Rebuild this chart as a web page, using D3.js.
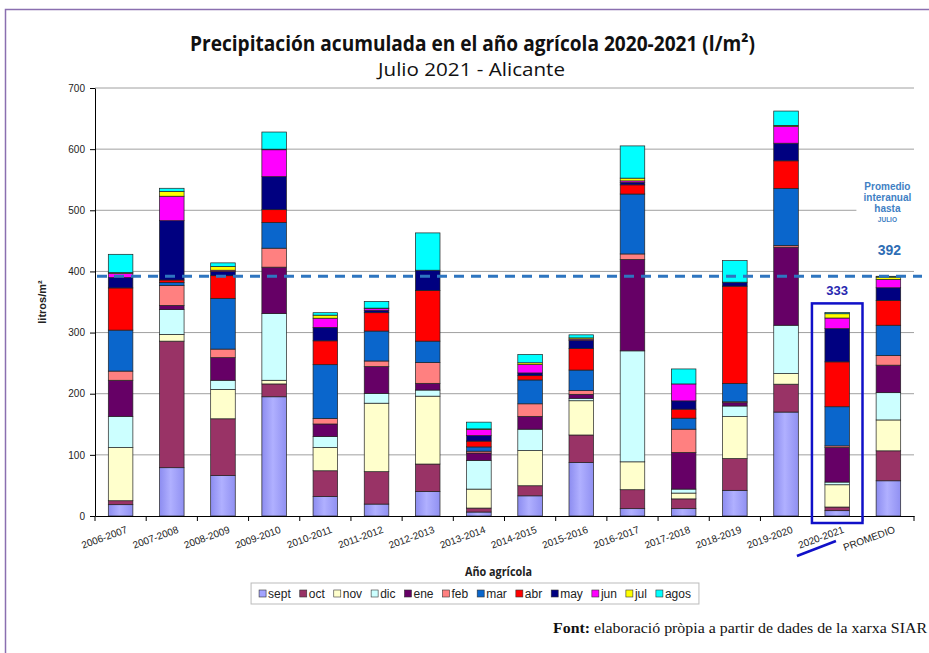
<!DOCTYPE html>
<html>
<head>
<meta charset="utf-8">
<script src="https://cdn.jsdelivr.net/npm/d3@7"></script>
<style>
  body { margin: 0; background: #fff; }
  svg { display: block; }
</style>
</head>
<body>
<div id="chart"></div>
<script>
// data (l/m2 per month, stacked)
const years = ['2006-2007', '2007-2008', '2008-2009', '2009-2010', '2010-2011', '2011-2012',
    '2012-2013', '2013-2014', '2014-2015', '2015-2016', '2016-2017', '2017-2018',
    '2018-2019', '2019-2020', '2020-2021', 'PROMEDIO'];
const months = ['sept', 'oct', 'nov', 'dic', 'ene', 'feb', 'mar', 'abr', 'may', 'jun', 'jul', 'agos'];
const monthColors = ['#a3a3ff', '#993366', '#ffffcc', '#ccffff', '#660066', '#ff8080',
    '#0a66cc', '#ff0000', '#000080', '#ff00ff', '#ffff00', '#00ffff'];

const sept = [18.5, 79, 66, 195, 32, 19.5, 40, 6.5, 33, 87.5, 12, 12, 42, 170, 8.7, 57.6];
const oct  = [6.5, 207, 93, 21, 42, 53, 45, 6.5, 16.5, 45, 31, 16, 52, 45.6, 6, 49];
const nov  = [87, 11, 48, 6, 38, 112, 111, 31, 57.5, 56, 45.6, 9.5, 68.5, 17.4, 36.4, 50.5];
const dic  = [51, 40.5, 15, 109, 18, 16, 10, 47, 35, 4, 181.5, 6.5, 17.4, 79, 4.4, 44.6];
const ene  = [59, 7, 37, 76, 20.5, 44, 11, 12, 21, 6.5, 149.5, 60, 5.4, 127.7, 56.5, 45];
const feb  = [15, 32.5, 14, 31, 9, 9, 34, 3, 20.5, 6, 9, 38, 1.6, 2.7, 2.7, 15.8];
const mar  = [67, 5, 83, 42, 88, 49, 35, 7, 39, 33.7, 98, 18, 30, 93.5, 64, 49.5];
const abr  = [69, 4, 37, 21, 39, 30, 83, 9.5, 7, 35, 15, 14.7, 159, 45, 73.4, 40.7];
const may  = [17, 97, 7, 54, 22, 4, 33, 9, 4.5, 13.6, 4, 13.6, 6.5, 28.8, 54.3, 20.6];
const jun  = [7, 40, 2, 44, 15, 3, 0, 10, 13.6, 2, 2.5, 27.7, 0, 27.2, 17.4, 13.6];
const jul  = [1, 8, 6, 1, 5, 0.5, 0, 1, 3, 2, 4.5, 0, 0, 2, 7, 3.8];
const agos = [30, 5, 6, 28, 4, 11, 61, 11, 13.6, 5, 52.7, 24.5, 35.3, 23.4, 2, 1.4];

const averageToJuly = 392;
const currentTotal = 333;
const yTicks = [0, 100, 200, 300, 400, 500, 600, 700];

const series = [sept, oct, nov, dic, ene, feb, mar, abr, may, jun, jul, agos];
const rows = years.map((yr, i) => {
    const row = { year: yr };
    months.forEach((m, k) => { row[m] = series[k][i]; });
    return row;
});

const width = 929, height = 653;
const margin = { top: 88, right: 15, bottom: 137, left: 95 };

const svg = d3.select('#chart').append('svg')
    .attr('width', width)
    .attr('height', height);

// soft shading on the sept bars
const grad = svg.append('defs').append('linearGradient')
    .attr('id', 'septGrad')
    .attr('x1', '0%').attr('x2', '100%');
grad.append('stop').attr('offset', '0%').attr('stop-color', '#8c8cf0');
grad.append('stop').attr('offset', '45%').attr('stop-color', '#b0b0ff');
grad.append('stop').attr('offset', '100%').attr('stop-color', '#9090f2');

// purple frame
svg.append('path')
    .attr('d', 'M5.5,653 V9.5 H929')
    .attr('fill', 'none')
    .attr('stroke', '#8a6fb0')
    .attr('stroke-width', 1.5);

const x = d3.scaleBand()
    .domain(years)
    .range([margin.left, width - margin.right])
    .paddingInner(0.52)
    .paddingOuter(0.26);

const y = d3.scaleLinear()
    .domain([0, 700])
    .range([height - margin.bottom, margin.top]);

// grid
svg.append('g')
    .selectAll('line')
    .data(yTicks.slice(1))
    .join('line')
    .attr('x1', margin.left)
    .attr('x2', width - margin.right)
    .attr('y1', d => y(d))
    .attr('y2', d => y(d))
    .attr('stroke', '#a0a0a0')
    .attr('stroke-width', 1);

// titles (condensed look)
svg.append('text')
    .attr('x', 190).attr('y', 51)
    .attr('font-family', 'Open Sans, sans-serif')
    .attr('font-weight', 'bold')
    .attr('font-size', 21)
    .attr('fill', '#111')
    .attr('textLength', 565)
    .attr('lengthAdjust', 'spacingAndGlyphs')
    .text('Precipitación acumulada en el año agrícola 2020-2021 (l/m²)');

svg.append('text')
    .attr('x', 378).attr('y', 76)
    .attr('font-family', 'Open Sans, sans-serif')
    .attr('font-size', 19)
    .attr('fill', '#111')
    .attr('textLength', 187)
    .attr('lengthAdjust', 'spacingAndGlyphs')
    .text('Julio 2021 - Alicante');

// stacked bars
const stack = d3.stack().keys(months);
const layers = stack(rows);

svg.append('g')
    .selectAll('g')
    .data(layers)
    .join('g')
    .attr('fill', (d, i) => i === 0 ? 'url(#septGrad)' : monthColors[i])
    .selectAll('rect')
    .data(d => d)
    .join('rect')
    .attr('x', d => x(d.data.year))
    .attr('y', d => y(d[1]))
    .attr('width', x.bandwidth())
    .attr('height', d => Math.max(0, y(d[0]) - y(d[1])))
    .attr('stroke', '#222')
    .attr('stroke-width', 0.7);

// axes
const yAxis = d3.axisLeft(y).tickValues(yTicks).tickSize(5).tickSizeOuter(0);
const gy = svg.append('g')
    .attr('transform', `translate(${margin.left},0)`)
    .call(yAxis);
gy.select('.domain').attr('stroke', '#000');
gy.selectAll('.tick text')
    .attr('font-family', 'Liberation Sans, Arial, sans-serif')
    .attr('font-size', 10)
    .attr('fill', '#222')
    .attr('dx', -2);

const xAxis = d3.axisBottom(x).tickSize(0).tickSizeOuter(0);
const gx = svg.append('g')
    .attr('transform', `translate(0,${y(0)})`)
    .call(xAxis);
gx.select('.domain').attr('stroke', '#000');
gx.selectAll('.tick text')
    .attr('font-family', 'Liberation Sans, Arial, sans-serif')
    .attr('font-size', 10)
    .attr('fill', '#222')
    .attr('text-anchor', 'end')
    .attr('transform', 'translate(4,7) rotate(-20)')
    .attr('dy', '0.7em');

// tick marks between categories
const step = x.step();
svg.append('g')
    .selectAll('line')
    .data(d3.range(years.length + 1))
    .join('line')
    .attr('x1', i => margin.left + i * step)
    .attr('x2', i => margin.left + i * step)
    .attr('y1', y(0))
    .attr('y2', y(0) + 5)
    .attr('stroke', '#000');

// axis titles
svg.append('text')
    .attr('transform', `translate(46,${y(350)}) rotate(-90)`)
    .attr('text-anchor', 'middle')
    .attr('font-family', 'Liberation Sans, Arial, sans-serif')
    .attr('font-weight', 'bold')
    .attr('font-size', 11)
    .attr('fill', '#222')
    .text('litros/m²');

svg.append('text')
    .attr('x', 465).attr('y', 576)
    .attr('font-family', 'Open Sans, sans-serif')
    .attr('font-weight', 'bold')
    .attr('font-size', 13)
    .attr('fill', '#222')
    .attr('textLength', 67)
    .attr('lengthAdjust', 'spacingAndGlyphs')
    .text('Año agrícola');

// average line
svg.append('line')
    .attr('x1', margin.left + 2)
    .attr('x2', 922)
    .attr('y1', y(averageToJuly))
    .attr('y2', y(averageToJuly))
    .attr('stroke', '#2e75c0')
    .attr('stroke-width', 3)
    .attr('stroke-dasharray', '10,7');

// annotation
const lastX = x('PROMEDIO') + x.bandwidth() / 2;
svg.append('rect')
    .attr('x', lastX - 32).attr('y', y(530))
    .attr('width', 64).attr('height', 52)
    .attr('fill', '#fff');
const note = svg.append('text')
    .attr('text-anchor', 'middle')
    .attr('font-family', 'Liberation Sans, Arial, sans-serif')
    .attr('font-weight', 'bold')
    .attr('fill', '#3f7fc4');
[['Promedio', 10, 190], ['interanual', 10, 201], ['hasta', 10, 212], ['JULIO', 6.5, 222]]
    .forEach(([t, s, yy]) => {
        note.append('tspan').attr('x', lastX - 1).attr('y', yy).attr('font-size', s).text(t);
    });
svg.append('text')
    .attr('x', lastX + 1).attr('y', y(averageToJuly) - 21)
    .attr('text-anchor', 'middle')
    .attr('font-family', 'Liberation Sans, Arial, sans-serif')
    .attr('font-weight', 'bold')
    .attr('font-size', 14)
    .attr('fill', '#2e6db4')
    .text(averageToJuly);

// highlight on current year
const curX = x('2020-2021');
svg.append('rect')
    .attr('x', curX - 13).attr('y', y(currentTotal) - 9)
    .attr('width', x.bandwidth() + 26)
    .attr('height', y(0) - y(currentTotal) + 16)
    .attr('fill', 'none')
    .attr('stroke', '#1010c8')
    .attr('stroke-width', 2.5);
svg.append('text')
    .attr('x', curX + x.bandwidth() / 2).attr('y', y(currentTotal) - 17)
    .attr('text-anchor', 'middle')
    .attr('font-family', 'Liberation Sans, Arial, sans-serif')
    .attr('font-weight', 'bold')
    .attr('font-size', 13)
    .attr('fill', '#2828b0')
    .text(currentTotal);
svg.append('line')
    .attr('x1', curX - 28).attr('y1', y(0) + 40)
    .attr('x2', curX + 11).attr('y2', y(0) + 25)
    .attr('stroke', '#1010c8')
    .attr('stroke-width', 2.5);

// legend
const legend = svg.append('g');
const lg = legend.append('g');
let cx = 0;
months.forEach((m, i) => {
    const item = lg.append('g').attr('transform', `translate(${cx},0)`);
    item.append('rect')
        .attr('x', 0).attr('y', -8)
        .attr('width', 7).attr('height', 7)
        .attr('fill', monthColors[i])
        .attr('stroke', '#333')
        .attr('stroke-width', 0.6);
    const t = item.append('text')
        .attr('x', 9).attr('y', 0)
        .attr('font-family', 'Liberation Sans, Arial, sans-serif')
        .attr('font-size', 12)
        .attr('fill', '#222')
        .text(m);
    cx += 9 + t.node().getComputedTextLength() + 9;
});
const lgW = cx - 9;
const lgX = 475 - lgW / 2;
lg.attr('transform', `translate(${lgX},598)`);
legend.insert('rect', ':first-child')
    .attr('x', lgX - 8).attr('y', 583)
    .attr('width', lgW + 16).attr('height', 21)
    .attr('fill', '#fff')
    .attr('stroke', '#bbb');

// source
const src = svg.append('text')
    .attr('x', 553).attr('y', 633)
    .attr('font-family', 'Liberation Serif, Times New Roman, serif')
    .attr('font-size', 15)
    .attr('fill', '#111')
    .attr('textLength', 374)
    .attr('lengthAdjust', 'spacingAndGlyphs');
src.append('tspan').attr('font-weight', 'bold').text('Font:');
src.append('tspan').text(' elaboració pròpia a partir de dades de la xarxa SIAR');
</script>
</body>
</html>
